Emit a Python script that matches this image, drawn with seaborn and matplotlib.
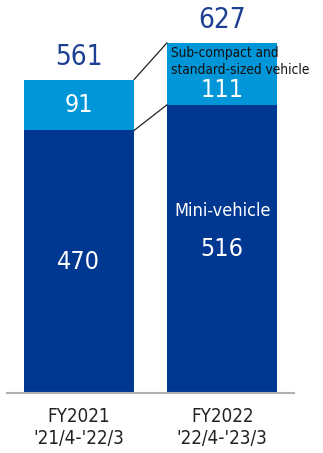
import matplotlib
matplotlib.use("Agg")
import matplotlib.pyplot as plt
import seaborn as sns
import pandas as pd

categories = ["FY2021\n'21/4-'22/3", "FY2022\n'22/4-'23/3"]
mini = [470, 516]
compact = [91, 111]
totals = [m + c for m, c in zip(mini, compact)]

sns.set_theme(style="white")
plt.rcParams['font.family'] = ['DejaVu Sans']
plt.rcParams['font.stretch'] = 'condensed'

DARK = "#003791"
LIGHT = "#0096D8"
TOT = "#1D3F94"

df = pd.DataFrame({"cat": categories, "mini": mini, "compact": compact, "total": totals})

fig = plt.figure(figsize=(3.23, 4.53), dpi=100)
ax = fig.add_axes([7/323, 60/453, 287/323, 391/453])

W = 0.77
sns.barplot(data=df, x="cat", y="total", color=LIGHT, width=W, ax=ax, saturation=1, linewidth=0)
sns.barplot(data=df, x="cat", y="mini", color=DARK, width=W, ax=ax, saturation=1, linewidth=0)

ax.set_xlim(-0.5, 1.5)
ax.set_ylim(0, 700)
ax.set_xlabel("")
ax.set_ylabel("")
ax.set_yticks([])
for s in ["top", "right", "left"]:
    ax.spines[s].set_visible(False)
ax.spines["bottom"].set_color("#b0b0b0")
ax.spines["bottom"].set_linewidth(1.5)
ax.tick_params(axis="x", length=0, pad=10, labelsize=13.5, colors="#222222")

# connector lines
half = W / 2
ax.plot([0 + half, 1 - half], [totals[0], totals[1]], color="#222222", lw=0.9)
ax.plot([0 + half, 1 - half], [mini[0], mini[1]], color="#222222", lw=0.9)

# totals
for i, t in enumerate(totals):
    ax.text(i, t + 15, str(t), ha="center", va="bottom", fontsize=20, color=TOT)

# inner values
ax.text(0, mini[0] + compact[0] / 2, str(compact[0]), ha="center", va="center", fontsize=18, color="white")
ax.text(1, 542, str(compact[1]), ha="center", va="center", fontsize=18, color="white")
for i, m in enumerate(mini):
    ax.text(i, m / 2, str(m), ha="center", va="center", fontsize=18, color="white")

ax.text(1, 326, "Mini-vehicle", ha="center", va="center", fontsize=13, color="white")
ax.text(1 - half + 0.03, 594, "Sub-compact and\nstandard-sized vehicle", ha="left", va="center",
        fontsize=9.8, color="#111111", linespacing=1.3, clip_on=False)

fig.savefig("out.png", dpi=100)
